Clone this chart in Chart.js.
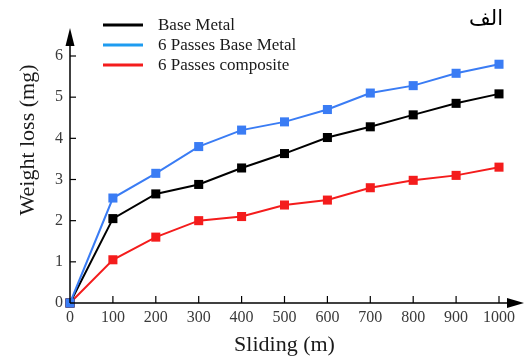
<!DOCTYPE html>
<html>
<head>
<meta charset="utf-8">
<script src="https://cdn.jsdelivr.net/npm/chart.js@4"></script>
<style>
    html, body { margin: 0; padding: 0; background: #fff; }
    #wrap { width: 526px; height: 360px; }
</style>
</head>
<body>
<div id="wrap"><canvas id="chart" width="526" height="360"></canvas></div>
<script>
// Data
const sliding = [0, 100, 200, 300, 400, 500, 600, 700, 800, 900, 1000];
const baseMetal = [0, 2.05, 2.65, 2.88, 3.28, 3.63, 4.02, 4.28, 4.57, 4.85, 5.08];
const passesBaseMetal = [0, 2.55, 3.15, 3.8, 4.2, 4.4, 4.7, 5.1, 5.28, 5.58, 5.8];
const passesComposite = [0, 1.05, 1.6, 2.0, 2.1, 2.38, 2.5, 2.8, 2.98, 3.1, 3.3];
const seriesNames = ['Base Metal', '6 Passes Base Metal', '6 Passes composite'];
const yTicks = [0, 1, 2, 3, 4, 5, 6];

const SERIF = "'Liberation Serif', 'Times New Roman', serif";
const COLORS = ['#000000', '#3a7cf4', '#f41c1c'];
const LEGEND_COLORS = ['#000000', '#1e9cf0', '#f41c1c'];

function toPoints(values) {
    return sliding.map((x, i) => ({ x: x, y: values[i] }));
}

function makeDataset(label, values, color, order) {
    return {
        label: label,
        data: toPoints(values),
        borderColor: color,
        backgroundColor: color,
        borderWidth: 2,
        pointStyle: 'rect',
        pointRadius: 6.4,
        pointBorderWidth: 0,
        order: order,
        clip: false,
        tension: 0
    };
}

// axes with arrow heads, inward ticks, legend and panel label
const decorPlugin = {
    id: 'decor',
    afterDraw(chart) {
        const ctx = chart.ctx;
        const x = chart.scales.x;
        const y = chart.scales.y;
        const x0 = x.getPixelForValue(0);
        const y0 = y.getPixelForValue(0);
        ctx.save();
        ctx.strokeStyle = '#000';
        ctx.fillStyle = '#000';
        ctx.lineWidth = 1.5;

        // y axis + arrow
        ctx.beginPath();
        ctx.moveTo(x0, y0);
        ctx.lineTo(x0, 40);
        ctx.stroke();
        ctx.beginPath();
        ctx.moveTo(x0, 28);
        ctx.lineTo(x0 - 4.5, 46);
        ctx.lineTo(x0 + 4.5, 46);
        ctx.closePath();
        ctx.fill();

        // x axis + arrow
        ctx.beginPath();
        ctx.moveTo(x0, y0);
        ctx.lineTo(512, y0);
        ctx.stroke();
        ctx.beginPath();
        ctx.moveTo(524, y0);
        ctx.lineTo(507, y0 - 5);
        ctx.lineTo(507, y0 + 5);
        ctx.closePath();
        ctx.fill();

        // tick marks pointing inward
        ctx.lineWidth = 1.2;
        sliding.slice(1).forEach(v => {
            const px = x.getPixelForValue(v);
            ctx.beginPath();
            ctx.moveTo(px, y0);
            ctx.lineTo(px, y0 - 7);
            ctx.stroke();
        });
        yTicks.slice(1).forEach(v => {
            const py = y.getPixelForValue(v);
            ctx.beginPath();
            ctx.moveTo(x0, py);
            ctx.lineTo(x0 + 6, py);
            ctx.stroke();
        });

        // y title
        ctx.save();
        ctx.translate(28, 140);
        ctx.rotate(-Math.PI / 2);
        ctx.font = '22px ' + SERIF;
        ctx.fillStyle = '#1a1a1a';
        ctx.textAlign = 'center';
        ctx.textBaseline = 'middle';
        ctx.fillText('Weight loss (mg)', 0, 0);
        ctx.restore();

        // legend
        ctx.font = '17px ' + SERIF;
        ctx.textAlign = 'left';
        ctx.textBaseline = 'middle';
        ctx.lineWidth = 3;
        seriesNames.forEach((name, i) => {
            const ly = 25 + i * 20;
            ctx.strokeStyle = LEGEND_COLORS[i];
            ctx.beginPath();
            ctx.moveTo(103, ly);
            ctx.lineTo(143, ly);
            ctx.stroke();
            ctx.fillStyle = '#1a1a1a';
            ctx.fillText(name, 158, ly + 1);
        });

        // panel label
        ctx.font = '21px "DejaVu Sans", "Noto Sans", sans-serif';
        ctx.textAlign = 'right';
        ctx.fillStyle = '#000';
        ctx.fillText('الف', 503, 20);
        ctx.restore();
    }
};

const chart = new Chart(document.getElementById('chart'), {
    type: 'line',
    data: {
        datasets: [
            makeDataset(seriesNames[0], baseMetal, COLORS[0], 1),
            makeDataset(seriesNames[1], passesBaseMetal, COLORS[1], 0),
            makeDataset(seriesNames[2], passesComposite, COLORS[2], 2)
        ]
    },
    options: {
        responsive: false,
        animation: false,
        layout: { padding: { top: 56, right: 27, left: 0, bottom: 0 } },
        plugins: {
            legend: { display: false },
            tooltip: { enabled: false }
        },
        scales: {
            x: {
                type: 'linear',
                min: 0,
                max: 1000,
                afterFit: (scale) => { scale.height = 57; },
                grid: { display: false, drawTicks: false },
                border: { display: false },
                ticks: {
                    stepSize: 100,
                    padding: 5,
                    color: '#3a3a3a',
                    font: { family: SERIF, size: 16 },
                    maxRotation: 0,
                    callback: (value) => String(value)
                },
                title: {
                    display: true,
                    text: 'Sliding (m)',
                    color: '#1a1a1a',
                    font: { family: SERIF, size: 22 },
                    padding: { top: 0, bottom: 2 }
                }
            },
            y: {
                min: 0,
                max: 6,
                afterFit: (scale) => { scale.width = 70; },
                grid: { display: false, drawTicks: false },
                border: { display: false },
                ticks: {
                    stepSize: 1,
                    padding: 7,
                    color: '#3a3a3a',
                    font: { family: SERIF, size: 16 }
                }
            }
        }
    },
    plugins: [decorPlugin]
});
</script>
</body>
</html>
